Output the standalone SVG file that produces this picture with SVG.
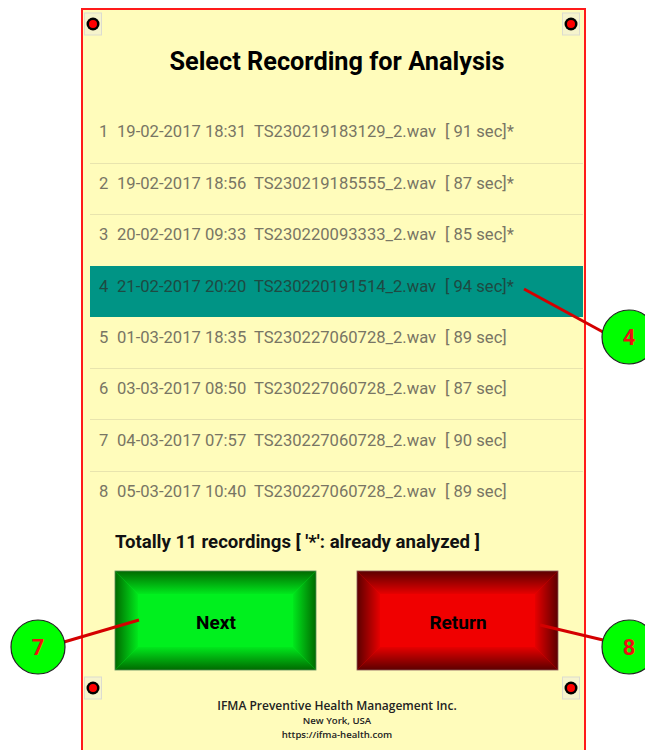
<svg xmlns="http://www.w3.org/2000/svg" width="645" height="750" viewBox="0 0 645 750">
  <style>
    .row { font-family: Roboto, "Liberation Sans", sans-serif; font-size: 16.6px; fill: #787564; }
    .row.sel { fill: #1e4a42; }
    .sep { stroke: #e8e4ae; stroke-width: 1; }
    .title { font-family: Roboto, "Liberation Sans", sans-serif; font-weight: bold; font-size: 25.3px; fill: #000; }
    .note { font-family: Roboto, "Liberation Sans", sans-serif; font-weight: bold; font-size: 18.6px; fill: #111; }
    .btn { font-family: Roboto, "Liberation Sans", sans-serif; font-weight: bold; font-size: 19px; fill: #000; }
    .foot { font-family: "Open Sans", "Liberation Sans", sans-serif; font-weight: 600; fill: #222; }
    .callout circle { fill: #00ff00; stroke: #222; stroke-width: 1.2; }
    .callout text { font-family: Roboto, "Liberation Sans", sans-serif; font-weight: bold; font-size: 22px; fill: #ee1111; }
    .lead { stroke: #d40000; stroke-width: 3; fill: none; }
  </style>
  <defs>
    <g id="pin">
      <rect x="-8.5" y="-11" width="17" height="22" fill="#f6f4cc" stroke="#dcdcd0" stroke-width="1"/>
      <circle r="6.5" fill="#000"/>
      <circle r="4" fill="#ff0000"/>
    </g>
    <!-- green bevel gradients -->
    <linearGradient id="gT" x1="0" y1="0" x2="0" y2="1"><stop offset="0" stop-color="#006a00"/><stop offset="1" stop-color="#00e81c"/></linearGradient>
    <linearGradient id="gB" x1="0" y1="1" x2="0" y2="0"><stop offset="0" stop-color="#006a00"/><stop offset="1" stop-color="#00e81c"/></linearGradient>
    <linearGradient id="gL" x1="0" y1="0" x2="1" y2="0"><stop offset="0" stop-color="#006a00"/><stop offset="1" stop-color="#00e81c"/></linearGradient>
    <linearGradient id="gR" x1="1" y1="0" x2="0" y2="0"><stop offset="0" stop-color="#006a00"/><stop offset="1" stop-color="#00e81c"/></linearGradient>
    <!-- red bevel gradients -->
    <linearGradient id="rT" x1="0" y1="0" x2="0" y2="1"><stop offset="0" stop-color="#5c0000"/><stop offset="1" stop-color="#e60000"/></linearGradient>
    <linearGradient id="rB" x1="0" y1="1" x2="0" y2="0"><stop offset="0" stop-color="#5c0000"/><stop offset="1" stop-color="#e60000"/></linearGradient>
    <linearGradient id="rL" x1="0" y1="0" x2="1" y2="0"><stop offset="0" stop-color="#5c0000"/><stop offset="1" stop-color="#e60000"/></linearGradient>
    <linearGradient id="rR" x1="1" y1="0" x2="0" y2="0"><stop offset="0" stop-color="#5c0000"/><stop offset="1" stop-color="#e60000"/></linearGradient>
  </defs>

  <rect width="645" height="750" fill="#ffffff"/>

  <!-- screen panel -->
  <g id="panel">
    <rect x="82" y="9" width="503" height="745" fill="#fffcbb" stroke="#ff1a1a" stroke-width="2"/>
    <use href="#pin" x="93" y="24"/>
    <use href="#pin" x="571" y="24"/>
    <use href="#pin" x="93" y="688"/>
    <use href="#pin" x="571" y="688"/>
    <text class="title" x="337" y="70" text-anchor="middle">Select Recording for Analysis</text>
  </g>

  <!-- recording list -->
  <g id="list">
    <rect x="90" y="266" width="493" height="51" fill="#009485"/>
    <line class="sep" x1="90" y1="163.5" x2="583" y2="163.5"/>
    <line class="sep" x1="90" y1="214.5" x2="583" y2="214.5"/>
    <line class="sep" x1="90" y1="368.5" x2="583" y2="368.5"/>
    <line class="sep" x1="90" y1="419.5" x2="583" y2="419.5"/>
    <line class="sep" x1="90" y1="471.5" x2="583" y2="471.5"/>

    <text class="row" y="137"><tspan x="99">1</tspan><tspan x="117">19-02-2017 18:31</tspan><tspan x="254">TS230219183129_2.wav</tspan><tspan x="445">[ 91 sec]*</tspan></text>
    <text class="row" y="189"><tspan x="99">2</tspan><tspan x="117">19-02-2017 18:56</tspan><tspan x="254">TS230219185555_2.wav</tspan><tspan x="445">[ 87 sec]*</tspan></text>
    <text class="row" y="240"><tspan x="99">3</tspan><tspan x="117">20-02-2017 09:33</tspan><tspan x="254">TS230220093333_2.wav</tspan><tspan x="445">[ 85 sec]*</tspan></text>
    <text class="row sel" y="292"><tspan x="99">4</tspan><tspan x="117">21-02-2017 20:20</tspan><tspan x="254">TS230220191514_2.wav</tspan><tspan x="445">[ 94 sec]*</tspan></text>
    <text class="row" y="343"><tspan x="99">5</tspan><tspan x="117">01-03-2017 18:35</tspan><tspan x="254">TS230227060728_2.wav</tspan><tspan x="445">[ 89 sec]</tspan></text>
    <text class="row" y="394"><tspan x="99">6</tspan><tspan x="117">03-03-2017 08:50</tspan><tspan x="254">TS230227060728_2.wav</tspan><tspan x="445">[ 87 sec]</tspan></text>
    <text class="row" y="446"><tspan x="99">7</tspan><tspan x="117">04-03-2017 07:57</tspan><tspan x="254">TS230227060728_2.wav</tspan><tspan x="445">[ 90 sec]</tspan></text>
    <text class="row" y="497"><tspan x="99">8</tspan><tspan x="117">05-03-2017 10:40</tspan><tspan x="254">TS230227060728_2.wav</tspan><tspan x="445">[ 89 sec]</tspan></text>
  </g>

  <text class="note" x="115" y="548">Totally 11 recordings [ '*': already analyzed ]</text>

  <!-- Next button -->
  <g id="btn-next">
    <rect x="115" y="571" width="201" height="99" fill="#00f01e"/>
    <polygon points="115,571 316,571 293,594 138,594" fill="url(#gT)"/>
    <polygon points="115,670 316,670 293,647 138,647" fill="url(#gB)"/>
    <polygon points="115,571 138,594 138,647 115,670" fill="url(#gL)"/>
    <polygon points="316,571 293,594 293,647 316,670" fill="url(#gR)"/>
    <rect x="115" y="571" width="201" height="99" fill="none" stroke="#5b8c5b" stroke-width="0.8"/>
    <text class="btn" x="216" y="629" text-anchor="middle">Next</text>
  </g>

  <!-- Return button -->
  <g id="btn-return">
    <rect x="357" y="571" width="201" height="99" fill="#f00000"/>
    <polygon points="357,571 558,571 535,594 380,594" fill="url(#rT)"/>
    <polygon points="357,670 558,670 535,647 380,647" fill="url(#rB)"/>
    <polygon points="357,571 380,594 380,647 357,670" fill="url(#rL)"/>
    <polygon points="558,571 535,594 535,647 558,670" fill="url(#rR)"/>
    <rect x="357" y="571" width="201" height="99" fill="none" stroke="#8a5a5a" stroke-width="0.8"/>
    <text class="btn" x="458" y="629" text-anchor="middle">Return</text>
  </g>

  <!-- footer -->
  <g id="footer">
    <text class="foot" x="337" y="710" text-anchor="middle" font-size="12">IFMA Preventive Health Management Inc.</text>
    <text class="foot" x="337" y="724" text-anchor="middle" font-size="9.6">New York, USA</text>
    <text class="foot" x="337" y="737.5" text-anchor="middle" font-size="9.6">https://ifma-health.com</text>
  </g>

  <!-- connectors -->
  <g id="connectors">
    <line class="lead" x1="524" y1="289" x2="603" y2="332"/>
    <line class="lead" x1="64" y1="642" x2="139" y2="620"/>
    <line class="lead" x1="540" y1="625" x2="603" y2="640"/>
  </g>

  <!-- callouts -->
  <g id="callout-4" class="callout">
    <circle cx="629" cy="337" r="27"/>
    <text x="629" y="345" text-anchor="middle">4</text>
  </g>
  <g id="callout-7" class="callout">
    <circle cx="38" cy="647" r="27"/>
    <text x="38" y="655" text-anchor="middle">7</text>
  </g>
  <g id="callout-8" class="callout">
    <circle cx="629" cy="647" r="27"/>
    <text x="629" y="655" text-anchor="middle">8</text>
  </g>
</svg>
